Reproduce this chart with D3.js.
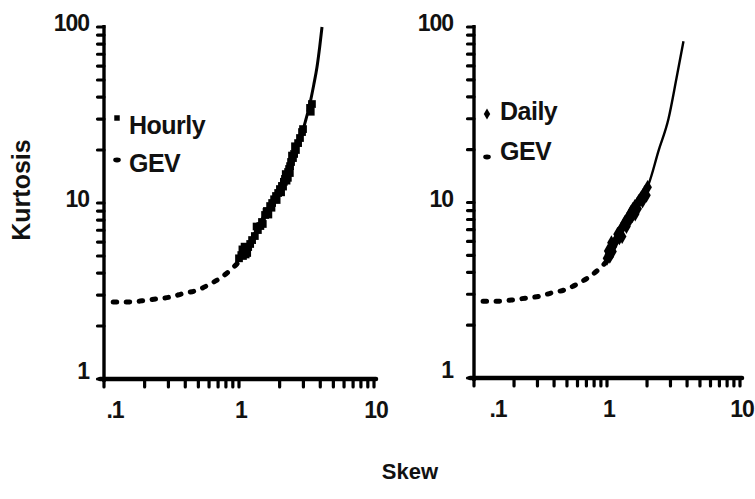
<!DOCTYPE html>
<html>
<head>
<meta charset="utf-8">
<script src="https://cdn.jsdelivr.net/npm/d3@7/dist/d3.min.js"></script>
<style>
  html, body { margin: 0; padding: 0; background: #fff; }
  svg { display: block; }
  text { font-family: "Liberation Sans", Arial, Helvetica, sans-serif; font-weight: bold; fill: #111; }
</style>
</head>
<body>
<svg id="chart" width="755" height="499"></svg>
<script>
// ---------- data ----------
const xTickValues = [0.1, 1, 10];
const xTickLabels = [".1", "1", "10"];
const yTickValues = [1, 10, 100];
const yTickLabels = ["1", "10", "100"];
const xMinorTicks = [0.2,0.3,0.4,0.5,0.6,0.7,0.8,0.9,2,3,4,5,6,7,8,9];
const yMinorTicks = [2,3,4,5,6,7,8,9,20,30,40,50,60,70,80,90];

// GEV theoretical relation, dashed part (both panels)
const gevDashSkew = [0.117, 0.150, 0.191, 0.243, 0.308, 0.386, 0.488, 0.609, 0.748, 0.890, 1.02, 1.08];
const gevDashKurt = [2.74, 2.74, 2.78, 2.85, 2.92, 3.06, 3.19, 3.46, 3.80, 4.25, 4.75, 5.10];

// GEV solid part as drawn in each panel
const gevSolidHourlySkew = [1.05, 1.20, 1.51, 1.80, 2.12, 2.50, 2.83, 3.10, 3.36, 3.58, 3.78, 3.96, 4.12];
const gevSolidHourlyKurt = [5.1, 6.0, 8.3, 10.6, 13.0, 17.5, 22.8, 29, 37, 47, 59, 77, 100];
const gevSolidDailySkew = [1.06, 1.25, 1.46, 1.75, 2.06, 2.44, 2.90, 3.33, 3.76];
const gevSolidDailyKurt = [5.0, 6.6, 8.4, 10.4, 12.8, 19.7, 30, 51, 83];

// Hourly sample moments
const hourlySkew = [1.04,1.09,1.13,1.07,1.17,1.21,1.25,1.31,1.38,1.48,1.56,1.61,1.70,1.76,1.82,1.88,1.95,2.01,2.08,2.15,2.19,2.27,2.31,2.35,2.39,2.43,2.51,2.56,2.64,2.74,2.83,2.93,2.98,3.36,3.47,
                    1.10,1.50,1.65,2.05,2.22,2.30,2.47,1.35,1.00,1.12,1.06,1.15,1.44,1.60,1.74,1.90,2.12,2.25,2.38,2.60,3.40];
const hourlyKurt = [5.06,5.27,5.48,5.00,5.62,5.85,6.16,6.49,7.02,7.80,8.55,9.01,9.61,10.0,10.5,10.96,11.4,12.0,12.5,13.2,13.7,14.2,15.0,15.6,16.2,17.1,18.0,19.0,20.0,21.9,23.4,25.3,26.3,34.7,36.5,
                    5.65,7.60,8.60,11.5,14.6,13.9,18.6,7.35,4.85,5.10,5.45,5.20,7.40,8.90,9.40,10.4,12.4,13.4,14.8,21.0,33.0];

// Daily sample moments
const dailySkew = [1.00,1.035,1.07,1.05,1.11,1.15,1.19,1.23,1.27,1.32,1.36,1.41,1.46,1.51,1.56,1.62,1.68,1.73,1.79,1.86,1.92,2.02,
                   1.02,1.10,1.24,1.40,1.55,1.70,1.85,1.20,1.08,1.30,1.47,1.63,1.98];
const dailyKurt = [4.81,5.06,5.34,4.93,5.62,5.93,6.25,6.67,7.02,7.31,7.70,8.01,8.33,8.78,9.12,9.49,9.74,10.13,10.5,10.96,11.4,12.2,
                   5.30,5.25,6.30,7.30,8.40,9.20,10.2,6.60,5.90,6.40,7.90,8.60,11.0];

// ---------- layout ----------
const panels = [
  { xr: [104, 374], yr: [379, 27], labelGap: 15, firstLabelShift: 11,
    solidSkew: gevSolidHourlySkew, solidKurt: gevSolidHourlyKurt,
    ptsSkew: hourlySkew, ptsKurt: hourlyKurt, marker: d3.symbolSquare, ptSize: 60, legSize: 30,
    legendName: "Hourly", legend: { mx: 117, my1: 118, my2: 160, tx: 129, ty1: 134, ty2: 172 }, lineW: 3 },
  { xr: [474, 740], yr: [378, 27], labelGap: 21, firstLabelShift: 24,
    solidSkew: gevSolidDailySkew, solidKurt: gevSolidDailyKurt,
    ptsSkew: dailySkew, ptsKurt: dailyKurt, marker: d3.symbolDiamond, ptSize: 64, legSize: 36,
    legendName: "Daily", legend: { mx: 487, my1: 114, my2: 157, tx: 500, ty1: 120, ty2: 160 }, lineW: 2.4 }
];

const svg = d3.select("#chart");
const ink = "#000";

panels.forEach(p => {
  const x = d3.scaleLog().domain([0.1, 10]).range(p.xr);
  const y = d3.scaleLog().domain([1, 100]).range(p.yr);
  const g = svg.append("g");

  // axis lines
  g.append("path")
    .attr("d", `M${x(0.1) - 4},${y(1)}L${x(10) + 2},${y(1)}`)
    .attr("stroke", ink).attr("stroke-width", 4.5).attr("stroke-linecap", "round").attr("fill", "none");
  g.append("path")
    .attr("d", `M${x(0.1)},${y(100) - 2}L${x(0.1)},${y(1) + 3}`)
    .attr("stroke", ink).attr("stroke-width", 3.4).attr("fill", "none");

  // x ticks (downward) with small blob ends like the scanned original
  const xt = xMinorTicks.concat(xTickValues);
  g.append("path")
    .attr("d", xt.map(v => `M${x(v)},${y(1)}L${x(v)},${y(1) + 8}`).join(""))
    .attr("stroke", ink).attr("stroke-width", 3.2).attr("stroke-linecap", "round").attr("fill", "none");
  // y ticks (leftward)
  const yt = yMinorTicks.concat(yTickValues);
  g.append("path")
    .attr("d", yt.map(v => `M${x(0.1)},${y(v)}L${x(0.1) - 6.5},${y(v)}`).join(""))
    .attr("stroke", ink).attr("stroke-width", 3.2).attr("stroke-linecap", "round").attr("fill", "none");

  // tick labels
  yTickValues.forEach((v, i) => {
    g.append("text").attr("x", x(0.1) - p.labelGap).attr("y", y(v) - (v === 1 ? 8 : 4))
      .attr("text-anchor", "end").attr("dominant-baseline", "central")
      .style("font-size", "23px").style("letter-spacing", "-1px").text(yTickLabels[i]);
  });
  xTickValues.forEach((v, i) => {
    g.append("text").attr("x", x(v) + (i === 0 ? p.firstLabelShift : 2)).attr("y", y(1) + 39)
      .attr("text-anchor", "middle")
      .style("font-size", "23px").style("letter-spacing", "-1px").text(xTickLabels[i]);
  });

  // GEV dashed curve
  const line = d3.line().x(d => x(d[0])).y(d => y(d[1])).curve(d3.curveMonotoneX);
  g.append("path").datum(gevDashSkew.map((s, i) => [s, gevDashKurt[i]]))
    .attr("d", line).attr("fill", "none").attr("stroke", ink)
    .attr("stroke-width", 5).attr("stroke-linecap", "round").attr("stroke-dasharray", "3.5,9.5");

  // GEV solid curve
  g.append("path").datum(p.solidSkew.map((s, i) => [s, p.solidKurt[i]]))
    .attr("d", line).attr("fill", "none").attr("stroke", ink).attr("stroke-width", p.lineW);

  // sample points
  const pts = p.ptsSkew.map((s, i) => [s, p.ptsKurt[i]]);
  const sym = d3.symbol().type(p.marker).size(p.ptSize);
  g.selectAll("path.pt").data(pts).enter().append("path")
    .attr("class", "pt")
    .attr("transform", d => `translate(${x(d[0])},${y(d[1])})`)
    .attr("d", sym).attr("fill", ink);

  // legend
  const L = p.legend;
  g.append("path").attr("transform", `translate(${L.mx},${L.my1})`).attr("d", d3.symbol().type(p.marker).size(p.legSize)).attr("fill", ink);
  g.append("ellipse").attr("cx", L.mx).attr("cy", L.my2).attr("rx", 3.8).attr("ry", 2.4).attr("fill", ink);
  g.append("text").attr("x", L.tx).attr("y", L.ty1).style("font-size", "25px").style("letter-spacing", "-0.5px").text(p.legendName);
  g.append("text").attr("x", L.tx).attr("y", L.ty2).style("font-size", "25px").style("letter-spacing", "-0.5px").text("GEV");
});

// axis titles
svg.append("text").attr("transform", "translate(30,190) rotate(-90)")
  .attr("text-anchor", "middle").style("font-size", "25px").text("Kurtosis");
svg.append("text").attr("x", 410).attr("y", 479)
  .attr("text-anchor", "middle").style("font-size", "22px").text("Skew");
</script>
</body>
</html>
